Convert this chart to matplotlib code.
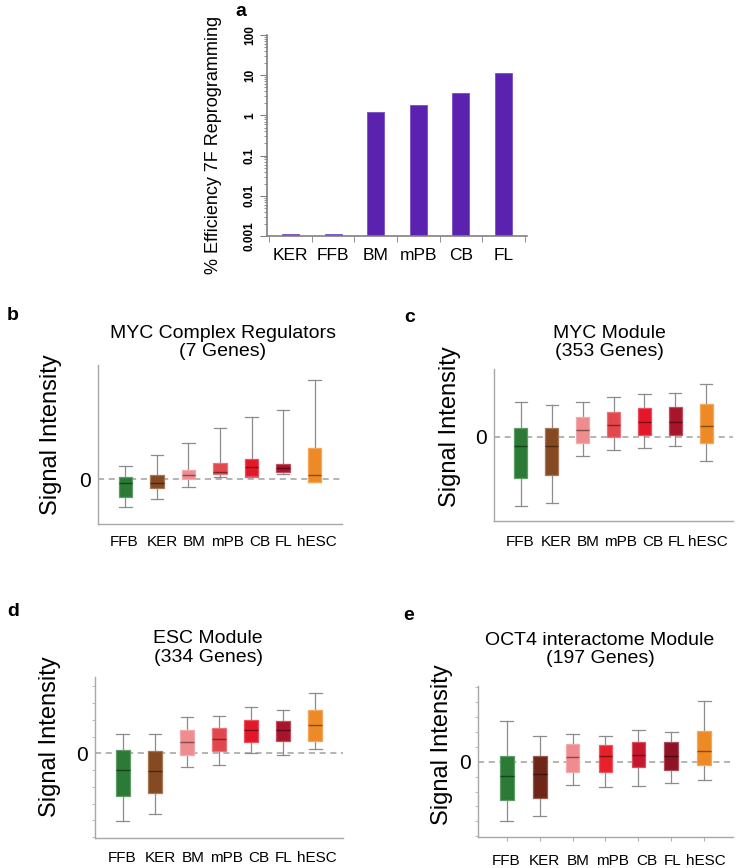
import matplotlib
matplotlib.use("Agg")
import matplotlib.pyplot as plt
import matplotlib.colors as mcolors
import matplotlib.transforms as mtransforms
import numpy as np
from matplotlib.ticker import LogLocator, FixedLocator, MultipleLocator

plt.rcParams['font.family'] = ['Liberation Sans', 'DejaVu Sans']

# panel a: reprogramming efficiency (log scale)
eff_labels = ["KER", "FFB", "BM", "mPB", "CB", "FL"]
eff_values = [0.0011, 0.0011, 1.2, 1.8, 3.6, 11.5]
eff_ticks = ["0.001", "0.01", "0.1", "1", "10", "100"]

# boxplot panels (relative signal intensity)
cells = ["FFB", "KER", "BM", "mPB", "CB", "FL", "hESC"]

# MYC complex regulators
b_whislo = [-0.85, -0.61, -0.25, 0.07, 0.07, 0.15, -0.10]
b_q1 = [-0.55, -0.28, 0.00, 0.15, 0.09, 0.22, -0.08]
b_med = [-0.12, -0.11, 0.13, 0.20, 0.37, 0.34, 0.12]
b_q3 = [0.05, 0.12, 0.27, 0.47, 0.59, 0.45, 0.93]
b_whishi = [0.39, 0.73, 1.07, 1.53, 1.85, 2.06, 2.96]

# MYC module
c_whislo = [-2.08, -1.99, -0.56, -0.38, -0.32, -0.28, -0.71]
c_q1 = [-1.23, -1.13, -0.20, -0.01, 0.06, 0.06, -0.20]
c_med = [-0.27, -0.27, 0.20, 0.34, 0.45, 0.45, 0.31]
c_q3 = [0.25, 0.27, 0.58, 0.73, 0.86, 0.88, 0.98]
c_whishi = [1.03, 0.94, 1.05, 1.18, 1.27, 1.30, 1.57]

# ESC module
d_whislo = [-2.03, -1.80, -0.42, -0.36, 0.00, -0.06, 0.12]
d_q1 = [-1.28, -1.19, -0.06, 0.07, 0.35, 0.37, 0.38]
d_med = [-0.51, -0.54, 0.35, 0.42, 0.70, 0.70, 0.84]
d_q3 = [0.09, 0.06, 0.71, 0.75, 0.99, 0.98, 1.29]
d_whishi = [0.58, 0.57, 1.08, 1.10, 1.39, 1.29, 1.79]

# OCT4 interactome module
e_whislo = [-1.78, -1.64, -0.71, -0.77, -0.73, -0.64, -0.55]
e_q1 = [-1.15, -1.10, -0.30, -0.30, -0.15, -0.25, -0.10]
e_med = [-0.43, -0.38, 0.13, 0.16, 0.20, 0.16, 0.32]
e_q3 = [0.16, 0.18, 0.53, 0.50, 0.59, 0.58, 0.91]
e_whishi = [1.24, 0.78, 0.84, 0.78, 0.94, 0.88, 1.83]

colors_main = ['#2b7a35', '#854a22', '#ee8c90', '#e2474d', '#e3172a', '#a8142a', '#ee8a25']
colors_e = ['#2b7a35', '#6e2618', '#ee8c90', '#e8202a', '#c8162e', '#8f1225', '#ee8a25']

# the category labels sit slightly right of their boxes in the original (pixels)
label_shift = [-1, 5, 6, 7, 8, 1, 2]

W, H = 739, 868
fig = plt.figure(figsize=(W / 100, H / 100), dpi=100)


def rect(left, top, right, bottom):
    return [left / W, 1 - bottom / H, (right - left) / W, (bottom - top) / H]


def mix(c, other, t):
    a = np.array(mcolors.to_rgb(c))
    b = np.array(mcolors.to_rgb(other))
    return tuple(a * (1 - t) + b * t)


# ---- panel a ----
ax = fig.add_axes(rect(267, 35, 527, 236))
xa = np.arange(len(eff_labels))
ax.bar(xa, eff_values, width=0.4, color='#5a22ae', edgecolor='#7a4cc4', linewidth=0.6)
ax.set_yscale('log')
ax.set_ylim(0.001, 100)
ax.set_xlim(-0.55, 5.55)
ax.set_yticks([0.001, 0.01, 0.1, 1, 10, 100])
ax.set_yticklabels(eff_ticks, rotation=90, fontsize=8.5, fontweight='bold', va='center')
ax.yaxis.set_minor_locator(LogLocator(base=10, subs=np.arange(2, 10)))
ax.yaxis.set_minor_formatter(plt.NullFormatter())
ax.tick_params(axis='y', which='major', length=5, color='#808080', pad=3)
ax.tick_params(axis='y', which='minor', length=2.5, color='#808080')
ax.set_xticks(xa)
ax.set_xticklabels(eff_labels, fontsize=12.5)
ax.xaxis.set_minor_locator(FixedLocator(np.arange(-0.5, 6, 1.0)))
ax.tick_params(axis='x', which='major', length=0, pad=9)
ax.tick_params(axis='x', which='minor', length=4, color='#808080')
for s in ['top', 'right']:
    ax.spines[s].set_visible(False)
for s in ['left', 'bottom']:
    ax.spines[s].set_color('#808080')
    ax.spines[s].set_linewidth(1.2)
fig.text(213 / W, 1 - 145 / H, "% Efficiency 7F Reprogramming", rotation=90,
         ha='center', va='center', fontsize=13)
fig.text(241 / W, 1 - 12 / H, "a", fontsize=14, fontweight='bold', ha='center', va='center')


def box_panel(box, title, title_xy, ylab_xy, letter_xy, letter, stats, colors, ylim,
              xpad, minor=None, xticks=False):
    whislo, q1, med, q3, whishi = stats
    ax = fig.add_axes(rect(*box))
    bstats = []
    for i in range(len(cells)):
        bstats.append(dict(label=cells[i], whislo=whislo[i], q1=q1[i], med=med[i],
                           q3=q3[i], whishi=whishi[i], fliers=[]))
    ax.axhline(0, color='#a0a0a0', linestyle=(0, (4, 3)), linewidth=1.1, zorder=1)
    bp = ax.bxp(bstats, positions=np.arange(len(cells)), widths=0.42,
                patch_artist=True, showfliers=False,
                whiskerprops=dict(color='#8c8c8c', linewidth=0.9),
                capprops=dict(color='#8c8c8c', linewidth=0.9),
                capwidths=0.4)
    for patch, c in zip(bp['boxes'], colors):
        patch.set_facecolor(c)
        patch.set_edgecolor(mix(c, 'white', 0.25))
        patch.set_linewidth(0.9)
        patch.set_zorder(3)
    for line, c in zip(bp['medians'], colors):
        line.set_color(mix(c, 'black', 0.45))
        line.set_linewidth(1.0)
        line.set_zorder(4)
    ax.set_xlim(-0.87, 6.87)
    ax.set_ylim(*ylim)
    ax.set_yticks([0])
    ax.set_yticklabels(["0"], fontsize=15)
    ax.tick_params(axis='y', which='major', length=0, pad=5)
    if minor is not None:
        ax.yaxis.set_minor_locator(MultipleLocator(minor))
        ax.tick_params(axis='y', which='minor', length=2.5, color='#b0b0b0')
    ax.set_xticks(np.arange(len(cells)))
    ax.set_xticklabels(cells, fontsize=11)
    ax.tick_params(axis='x', length=3 if xticks else 0, color='#b0b0b0', pad=xpad)
    for lbl, dx in zip(ax.get_xticklabels(), label_shift):
        lbl.set_transform(lbl.get_transform() +
                          mtransforms.ScaledTranslation(dx / 100, 0, fig.dpi_scale_trans))
    for s in ['top', 'right']:
        ax.spines[s].set_visible(False)
    for s in ['left', 'bottom']:
        ax.spines[s].set_color('#a8a8a8')
        ax.spines[s].set_linewidth(1.0)
    fig.text(title_xy[0] / W, 1 - title_xy[1] / H, title, ha='center', va='center',
             fontsize=14, linespacing=1.1)
    fig.text(ylab_xy[0] / W, 1 - ylab_xy[1] / H, "Signal Intensity", rotation=90,
             ha='center', va='center', fontsize=17)
    fig.text(letter_xy[0] / W, 1 - letter_xy[1] / H, letter, fontsize=14,
             fontweight='bold', ha='center', va='center')
    return ax


box_panel((98, 365, 342, 524), "MYC Complex Regulators\n(7 Genes)", (223, 342.5),
          (51, 435), (13, 315), "b",
          (b_whislo, b_q1, b_med, b_q3, b_whishi), colors_main, (-1.35, 3.42), 8)
box_panel((494, 369, 733, 521), "MYC Module\n(353 Genes)", (609, 342.5),
          (450, 427), (410, 318), "c",
          (c_whislo, c_q1, c_med, c_q3, c_whishi), colors_main, (-2.52, 2.03), 10)
box_panel((95, 677, 343, 838), "ESC Module\n(334 Genes)", (208, 648),
          (50, 737), (13, 612), "d",
          (d_whislo, d_q1, d_med, d_q3, d_whishi), colors_main, (-2.53, 2.28), 9,
          minor=0.5)
box_panel((478, 686, 733, 837), "OCT4 interactome Module\n(197 Genes)", (600, 649.5),
          (442, 745), (409, 615), "e",
          (e_whislo, e_q1, e_med, e_q3, e_whishi), colors_e, (-2.27, 2.28), 9,
          minor=0.45, xticks=True)

fig.savefig("out.png", dpi=100)
